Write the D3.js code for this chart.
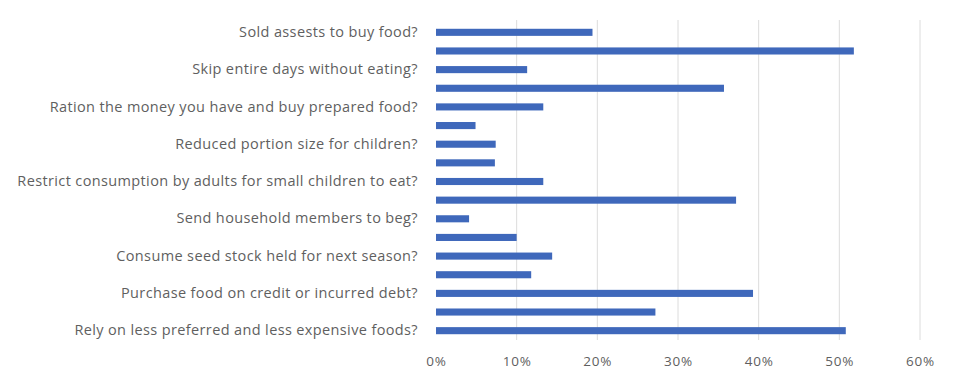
<!DOCTYPE html>
<html>
<head>
<meta charset="utf-8">
<script src="https://cdn.jsdelivr.net/npm/d3@7"></script>
<style>
  body { margin: 0; background: #fff; }
  svg { display: block; }
  .tick text { font-family: "Open Sans", sans-serif; fill: #5f5f5f; }
</style>
</head>
<body>
<div id="chart"></div>
<script>
"use strict";

// 17 rows, top to bottom; only every other row has its label printed
let labels = [
  "Sold assests to buy food?", "",
  "Skip entire days without eating?", "",
  "Ration the money you have and buy prepared food?", "",
  "Reduced portion size for children?", "",
  "Restrict consumption by adults for small children to eat?", "",
  "Send household members to beg?", "",
  "Consume seed stock held for next season?", "",
  "Purchase food on credit or incurred debt?", "",
  "Rely on less preferred and less expensive foods?"
];

let values = [
  0.194, 0.518, 0.113, 0.357, 0.133, 0.049, 0.074, 0.073, 0.133,
  0.372, 0.041, 0.100, 0.144, 0.118, 0.393, 0.272, 0.508
];

let xTicks = [0, 0.1, 0.2, 0.3, 0.4, 0.5, 0.6];

let width = 953, height = 373;
let margin = { top: 23, right: 33, bottom: 33, left: 436 };

let svg = d3.select("#chart").append("svg")
  .attr("width", width)
  .attr("height", height);

let x = d3.scaleLinear()
  .domain([0, 0.6])
  .range([margin.left, width - margin.right]);

let y = d3.scaleBand()
  .domain(d3.range(values.length))
  .range([margin.top, height - margin.bottom])
  .paddingInner(0.62)
  .paddingOuter(0.31);

// vertical gridlines
svg.append("g")
  .selectAll("line")
  .data(xTicks.slice(1))
  .enter().append("line")
  .attr("x1", d => x(d))
  .attr("x2", d => x(d))
  .attr("y1", margin.top - 3)
  .attr("y2", height - margin.bottom)
  .attr("stroke", "#dcdcdc")
  .attr("stroke-width", 1);

// bars
svg.append("g")
  .selectAll("rect")
  .data(values)
  .enter().append("rect")
  .attr("x", x(0))
  .attr("y", (d, i) => y(i))
  .attr("width", d => x(d) - x(0))
  .attr("height", y.bandwidth())
  .attr("fill", "#3f68bb");

// category axis
let yAxis = svg.append("g")
  .attr("transform", "translate(" + (margin.left - 18) + ",0)")
  .call(d3.axisLeft(y).tickSize(0).tickFormat(i => labels[i]));
yAxis.select(".domain").remove();
yAxis.selectAll("text")
  .attr("x", 0)
  .style("font-size", "14.5px")
  .style("letter-spacing", "0.37px");

// value axis
let xAxis = svg.append("g")
  .attr("transform", "translate(0," + (height - margin.bottom) + ")")
  .call(d3.axisBottom(x).tickValues(xTicks).tickSize(0).tickFormat(d3.format(".0%")));
xAxis.select(".domain").remove();
xAxis.selectAll("text")
  .attr("dy", "1.7em")
  .style("font-size", "13.5px")
  .style("letter-spacing", "0.8px");
</script>
</body>
</html>
